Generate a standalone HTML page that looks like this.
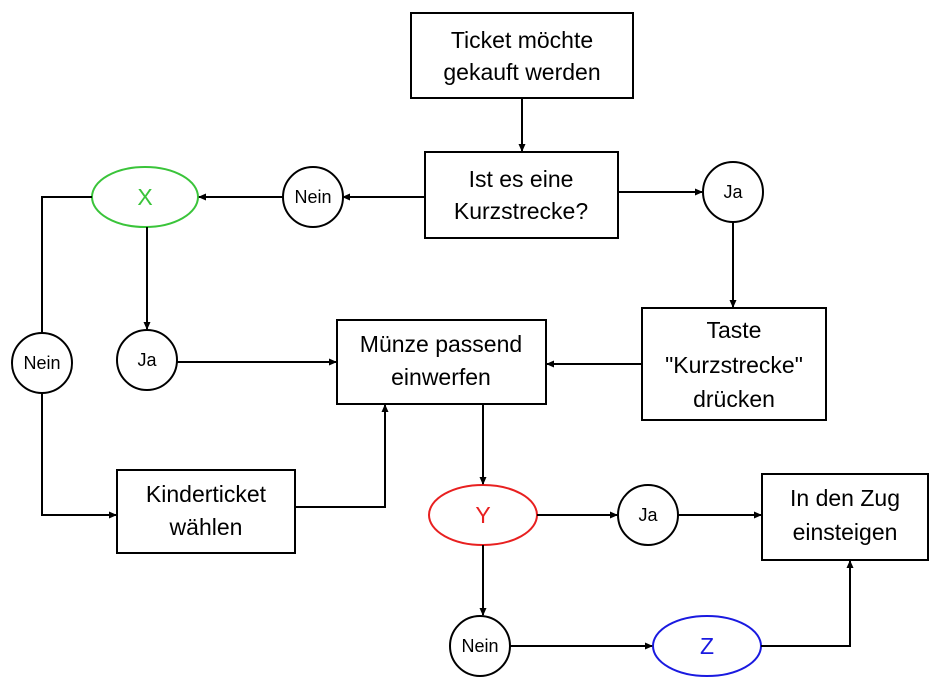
<!DOCTYPE html>
<html><head><meta charset="utf-8"><style>
html,body{margin:0;padding:0;background:#fff;}
svg{display:block;}
text{font-family:"Liberation Sans",Arial,sans-serif;fill:#000;}
</style></head><body>
<svg width="938" height="685" viewBox="0 0 938 685" xmlns="http://www.w3.org/2000/svg">
<defs>
<marker id="a" markerWidth="8" markerHeight="8" refX="7" refY="4" orient="auto" markerUnits="userSpaceOnUse">
<path d="M0,0.5 L8,4 L0,7.5 Z" fill="#000"/>
</marker>
</defs>
<g fill="none" stroke="#000" stroke-width="2">
<rect x="411" y="13" width="222" height="85"/>
<rect x="425" y="152" width="193" height="86"/>
<rect x="642" y="308" width="184" height="112"/>
<rect x="337" y="320" width="209" height="84"/>
<rect x="117" y="470" width="178" height="83"/>
<rect x="762" y="474" width="166" height="86"/>
<circle cx="313" cy="197" r="30"/>
<circle cx="733" cy="192" r="30"/>
<circle cx="42" cy="363" r="30"/>
<circle cx="147" cy="360" r="30"/>
<circle cx="648" cy="515" r="30"/>
<circle cx="480" cy="646" r="30"/>
<ellipse cx="145" cy="197" rx="53" ry="30" stroke="#3ac43a"/>
<ellipse cx="483" cy="515" rx="54" ry="30" stroke="#e82020"/>
<ellipse cx="707" cy="646" rx="54" ry="30" stroke="#1a1ae0"/>
<g marker-end="url(#a)">
<line x1="522" y1="98" x2="522" y2="151"/>
<line x1="425" y1="197" x2="343" y2="197"/>
<line x1="283" y1="197" x2="199" y2="197"/>
<line x1="618" y1="192" x2="702" y2="192"/>
<line x1="733" y1="222" x2="733" y2="307"/>
<line x1="642" y1="364" x2="547" y2="364"/>
<line x1="177" y1="362" x2="336" y2="362"/>
<line x1="147" y1="227" x2="147" y2="329"/>
<polyline points="42,393 42,515 116,515"/>
<polyline points="295,507 385,507 385,405"/>
<line x1="483" y1="404" x2="483" y2="484"/>
<line x1="537" y1="515" x2="617" y2="515"/>
<line x1="678" y1="515" x2="761" y2="515"/>
<line x1="483" y1="545" x2="483" y2="615"/>
<line x1="510" y1="646" x2="652" y2="646"/>
<polyline points="761,646 850,646 850,561"/>
</g>
<polyline points="92,197 42,197 42,333"/>
</g>
<g font-size="23" text-anchor="middle">
<text x="522" y="48">Ticket möchte</text>
<text x="522" y="80">gekauft werden</text>
<text x="521" y="187">Ist es eine</text>
<text x="521" y="219">Kurzstrecke?</text>
<text x="734" y="338">Taste</text>
<text x="734" y="373">"Kurzstrecke"</text>
<text x="734" y="407">drücken</text>
<text x="441" y="352">Münze passend</text>
<text x="441" y="385">einwerfen</text>
<text x="206" y="502">Kinderticket</text>
<text x="206" y="535">wählen</text>
<text x="845" y="506">In den Zug</text>
<text x="845" y="540">einsteigen</text>
<text x="145" y="205" fill="#3ac43a" style="fill:#3ac43a">X</text>
<text x="483" y="523" style="fill:#e82020">Y</text>
<text x="707" y="654" style="fill:#1a1ae0">Z</text>
</g>
<g font-size="18" text-anchor="middle">
<text x="313" y="203">Nein</text>
<text x="733" y="198">Ja</text>
<text x="42" y="369">Nein</text>
<text x="147" y="366">Ja</text>
<text x="648" y="521">Ja</text>
<text x="480" y="652">Nein</text>
</g>
</svg>
</body></html>
